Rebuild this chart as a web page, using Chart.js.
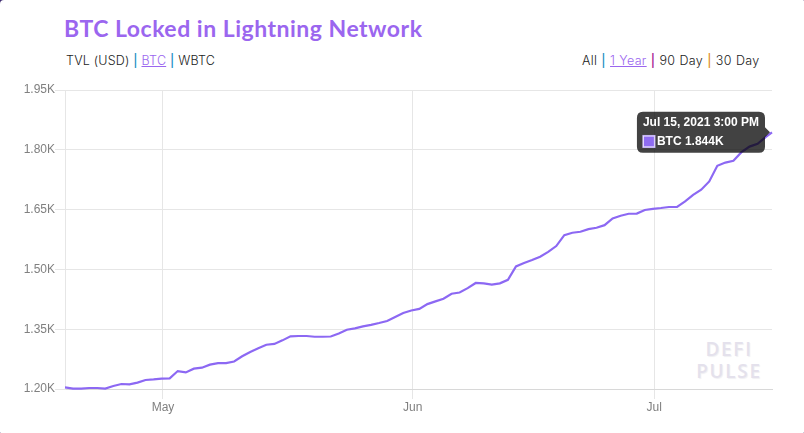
<!DOCTYPE html>
<html>
<head>
<meta charset="utf-8">
<script src="https://cdn.jsdelivr.net/npm/chart.js@4/dist/chart.umd.min.js"></script>
<style>
html,body{margin:0;padding:0;background:#3c2a6e;width:804px;height:433px;overflow:hidden}
#card{position:absolute;left:0;top:0;width:804px;height:433px;background:#fff;border-radius:4px 1px 1px 1px;overflow:hidden}
#title{position:absolute;left:64px;top:13px;font:700 23px Lato,sans-serif;color:#9b66ef;letter-spacing:.5px;white-space:nowrap;line-height:30px}
.nav{position:absolute;top:53px;font:300 12.5px Inter,sans-serif;color:#222;white-space:pre;line-height:16px;letter-spacing:.3px;word-spacing:.3px}
#navL{left:66px;letter-spacing:.2px;word-spacing:0}
#navR{left:582px}
.nav a{color:#9b66ef;text-decoration:underline}
.nav span{font-weight:500}
.s1{color:#1a8fc4}.s2{color:#a0108c}.s3{color:#e09030}
#wm{position:absolute;left:680px;top:338px;width:98px;text-align:center;font:600 19px/22px "Open Sans",sans-serif;color:#e4e1ec;letter-spacing:1.7px;text-shadow:1px 1px 1px #f0f0f3}
canvas{position:absolute;left:0;top:0}
</style>
</head>
<body>
<div id="card">
<div id="title">BTC Locked in Lightning Network</div>
<div class="nav" id="navL">TVL (USD) <span class="s1">|</span> <a>BTC</a> <span class="s1">|</span> WBTC</div>
<div class="nav" id="navR">All <span class="s1">|</span> <a>1 Year</a> <span class="s2">|</span> 90 Day <span class="s3">|</span> 30 Day</div>
<div id="wm">DEFI<br>PULSE</div>
<canvas id="c" width="804" height="433"></canvas>
</div>
<script>
const seriesName = 'BTC';
const dates = [
'04-18 20','04-19 20','04-20 20','04-21 20','04-22 20','04-23 20','04-24 20','04-25 20','04-26 20','04-27 20','04-28 20','04-29 20',
'04-30 20','05-01 20','05-02 20','05-03 20','05-04 20','05-05 20','05-06 20','05-07 20','05-08 20','05-09 20','05-10 20','05-11 20',
'05-12 20','05-13 20','05-14 20','05-15 20','05-16 20','05-17 20','05-18 20','05-19 20','05-20 20','05-21 20','05-22 20','05-23 20',
'05-24 20','05-25 20','05-26 20','05-27 20','05-28 20','05-29 20','05-30 20','05-31 20','06-01 20','06-02 20','06-03 20','06-04 20',
'06-05 20','06-06 20','06-07 20','06-08 20','06-09 20','06-10 20','06-11 20','06-12 20','06-13 20','06-14 20','06-15 20','06-16 20',
'06-17 20','06-18 20','06-19 20','06-20 20','06-21 20','06-22 20','06-23 20','06-24 20','06-25 20','06-26 20','06-27 20','06-28 20',
'06-29 20','06-30 20','07-01 20','07-02 20','07-03 20','07-04 20','07-05 20','07-06 20','07-07 20','07-08 20','07-09 20','07-10 20',
'07-11 20','07-12 20','07-13 20','07-14 20','07-15 15'];
const btc = [
1.204,1.201,1.201,1.2025,1.2025,1.201,1.2075,1.2125,1.2115,1.216,1.2226,1.224,
1.226,1.2266,1.245,1.2416,1.251,1.2534,1.261,1.265,1.265,1.269,1.282,1.293,
1.302,1.311,1.313,1.322,1.332,1.333,1.333,1.331,1.331,1.3317,1.3394,1.3487,
1.352,1.357,1.361,1.3655,1.3705,1.3806,1.3906,1.397,1.401,1.413,1.4197,1.4265,
1.439,1.442,1.453,1.466,1.465,1.4616,1.465,1.474,1.5075,1.516,1.5235,1.532,
1.544,1.5586,1.586,1.592,1.5945,1.601,1.6045,1.611,1.628,1.6346,1.6396,1.640,
1.649,1.652,1.654,1.6565,1.657,1.6705,1.687,1.700,1.7207,1.760,1.768,1.7726,
1.794,1.808,1.815,1.832,1.844];
const xTickDates = ['05-01 00','06-01 00','07-01 00'];
const xTickLabels = ['May','Jun','Jul'];
const yTicks = [1.20,1.35,1.50,1.65,1.80,1.95];
const tooltipTitle = 'Jul 15, 2021 3:00 PM';

const toMs = s => Date.UTC(2021, +s.slice(0,2)-1, +s.slice(3,5), +s.slice(6,8));
const points = dates.map((d,i)=>({x:toMs(d), y:btc[i]}));
const tickMs = xTickDates.map(toMs);

const chart = new Chart(document.getElementById('c'), {
  type:'line',
  data:{datasets:[{label:seriesName,data:points,borderColor:'#8c68f3',backgroundColor:'#8f6cf2',borderWidth:2.2,pointRadius:0,pointHoverRadius:0,tension:0,fill:false,clip:false}]},
  options:{
    responsive:false,animation:false,devicePixelRatio:1,
    layout:{padding:{top:90,right:32,left:0,bottom:0}},
    interaction:{mode:'index',intersect:false},
    scales:{
      x:{type:'linear',min:points[0].x,max:points[points.length-1].x,
        afterBuildTicks(a){a.ticks=tickMs.map(v=>({value:v}));},
        afterFit(a){a.height=44;},
        grid:{color:'#e6e6e6',lineWidth:1,tickLength:10,drawOnChartArea:true},
        border:{display:true,color:'#d8d8d8'},
        ticks:{autoSkip:false,maxRotation:0,color:'#808080',padding:1,font:{family:'"Liberation Sans"',size:12},
          callback(v){const i=tickMs.indexOf(v);return i<0?'':xTickLabels[i];}}},
      y:{type:'linear',min:yTicks[0],max:yTicks[yTicks.length-1],
        afterBuildTicks(a){a.ticks=yTicks.map(v=>({value:v}));},
        afterFit(a){a.width=65;},
        grid:{color:'#e6e6e6',lineWidth:1,tickLength:10},
        border:{display:true,color:'#e6e6e6'},
        ticks:{color:'#808080',padding:0,font:{family:'"Liberation Sans"',size:12},callback(v){return v.toFixed(2)+'K';}}}
    },
    plugins:{
      legend:{display:false},
      tooltip:{enabled:true,backgroundColor:'rgba(0,0,0,0.74)',cornerRadius:6,caretSize:5,caretPadding:2,
        padding:{x:6,y:4},titleMarginBottom:4,boxPadding:0,displayColors:true,boxWidth:12,boxHeight:12,
        titleFont:{family:'"Liberation Sans"',size:12,weight:'bold'},
        bodyFont:{family:'"Liberation Sans"',size:12,weight:'bold'},
        xAlign:'right',yAlign:'center',
        callbacks:{
          title(){return tooltipTitle;},
          label(c){return c.dataset.label+' '+c.parsed.y.toFixed(3)+'K';},
          labelColor(){return {borderColor:'#c9b8f8',backgroundColor:'#8f6cf2',borderWidth:1};}
        }}
    }
  }
});
const last = points.length-1;
const el = [{datasetIndex:0,index:last}];
chart.setActiveElements(el);
const m = chart.getDatasetMeta(0).data[last];
chart.tooltip.setActiveElements(el,{x:m.x,y:m.y});
chart.update();
</script>
</body>
</html>
